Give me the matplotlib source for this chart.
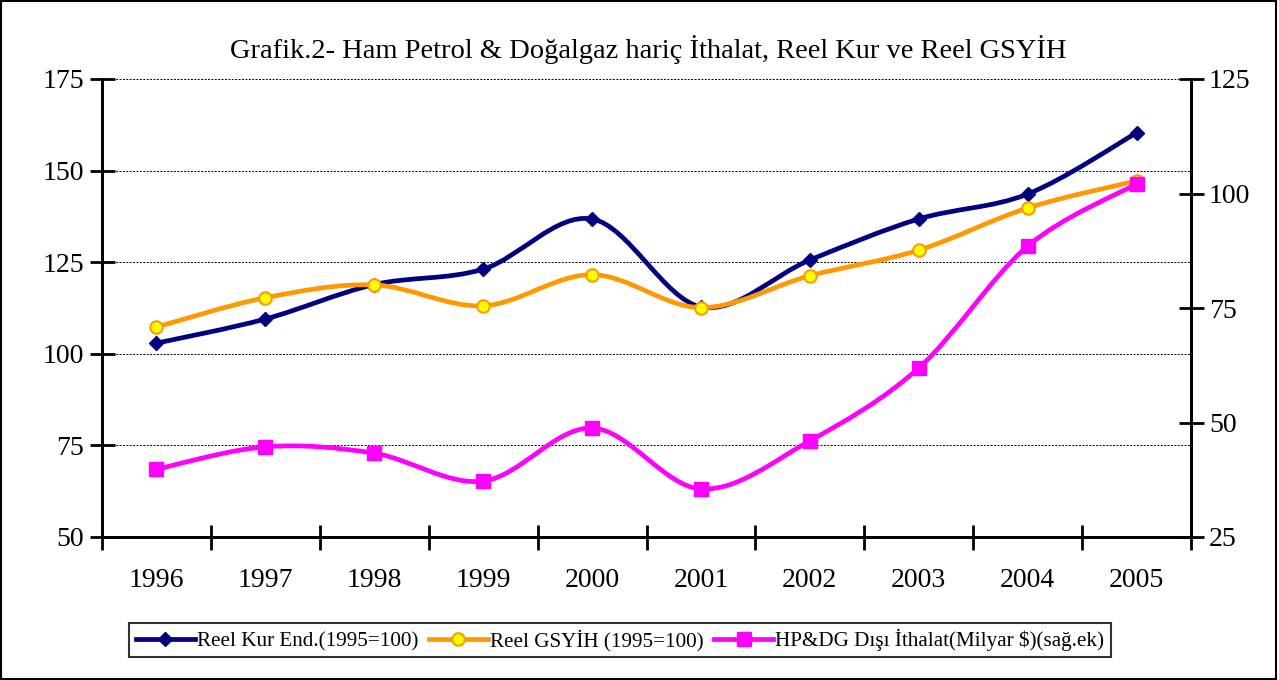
import matplotlib
matplotlib.use('Agg')
from matplotlib import pyplot as plt
from matplotlib.path import Path
from matplotlib.patches import PathPatch, Rectangle
from matplotlib.lines import Line2D

plt.rcParams['font.family'] = ['Liberation Serif', 'DejaVu Serif']

yillar = ['1996', '1997', '1998', '1999', '2000',
          '2001', '2002', '2003', '2004', '2005']
reel_kur = [102.9, 109.5, 118.9, 123.1, 136.8, 112.8, 125.6, 136.8, 143.6, 160.3]
reel_gsyih = [107.3, 115.3, 118.8, 113.1, 121.6, 112.6, 121.3, 128.3, 139.8, 147.2]
ithalat = [39.8, 44.7, 43.3, 37.2, 48.8, 35.5, 46.0, 61.9, 88.5, 102.1]

baslik = 'Grafik.2- Ham Petrol & Doğalgaz hariç İthalat, Reel Kur ve Reel GSYİH'
etiketler = ['Reel Kur End.(1995=100)', 'Reel GSYİH (1995=100)',
             'HP&DG Dışı İthalat(Milyar $)(sağ.ek)']


def yumusak_egri(xs, ys):
    """Excel tarzi yumusatilmis cizgi icin Bezier yolu olustur."""
    pts = list(zip(xs, ys))
    n = len(pts)
    verts = [pts[0]]
    codes = [Path.MOVETO]
    for i in range(n - 1):
        p0 = pts[max(i - 1, 0)]
        p1 = pts[i]
        p2 = pts[i + 1]
        p3 = pts[min(i + 2, n - 1)]
        c1 = (p1[0] + (p2[0] - p0[0]) / 6, p1[1] + (p2[1] - p0[1]) / 6)
        c2 = (p2[0] - (p3[0] - p1[0]) / 6, p2[1] - (p3[1] - p1[1]) / 6)
        verts += [c1, c2, p2]
        codes += [Path.CURVE4] * 3
    return Path(verts, codes)


fig = plt.figure(figsize=(12.79, 6.8), dpi=100)
fig.patches.append(Rectangle((0.001, 0.002), 0.997, 0.996, transform=fig.transFigure,
                             fill=False, edgecolor='black', linewidth=1.5))

ax = fig.add_axes([102 / 1279, 1 - 537 / 680, (1191 - 102) / 1279, (537 - 79) / 680])
ax2 = ax.twinx()

x = list(range(len(yillar)))

stiller = [
    (ax, reel_kur, dict(color='#000080', marker='D', markersize=7,
                        markerfacecolor='#000080', markeredgecolor='#000080')),
    (ax, reel_gsyih, dict(color='#FF9900', marker='o', markersize=9,
                          markerfacecolor='#FFFF00', markeredgecolor='#FF9900',
                          markeredgewidth=1.5)),
    (ax2, ithalat, dict(color='#FF00FF', marker='s', markersize=10,
                        markerfacecolor='#FF00FF', markeredgecolor='#FF00FF')),
]

tutamaclar = []
for i, (eksen, seri, st) in enumerate(stiller):
    eksen.add_patch(PathPatch(yumusak_egri(x, seri), facecolor='none',
                              edgecolor=st['color'], linewidth=3.4,
                              capstyle='round', joinstyle='round', zorder=3 + i))
    eksen.plot(x, seri, linestyle='none', zorder=4 + i,
               **{k: v for k, v in st.items() if k != 'color'})
    tutamaclar.append(Line2D([], [], linewidth=3.4, label=etiketler[i], **st))

ax.set_xlim(-0.5, 9.5)
ax.set_ylim(50, 175)
ax2.set_ylim(25, 125)
ax.set_yticks([50, 75, 100, 125, 150, 175])
ax2.set_yticks([25, 50, 75, 100, 125])
ax.set_xticks(x)
ax.set_xticklabels(yillar)
ax.set_xticks([i - 0.5 for i in range(11)], minor=True)
ax.tick_params(axis='x', which='major', length=0, pad=22, labelsize=20)
ax.tick_params(axis='x', which='minor', direction='inout', length=18, width=2)
ax.tick_params(axis='y', direction='inout', length=18, width=2, labelsize=20, pad=4)
ax2.tick_params(axis='y', direction='inout', length=18, width=2, labelsize=20, pad=4)

ax.yaxis.grid(True, linestyle=(0, (2, 1.5)), color='black', linewidth=0.7)
for eksen in (ax, ax2):
    eksen.spines['top'].set_visible(False)
    for s in ('left', 'right', 'bottom'):
        eksen.spines[s].set_linewidth(2)
ax.patch.set_visible(False)
ax2.patch.set_visible(False)

# sag eksen serisi en ustte kalsin
ax2.set_zorder(ax.get_zorder() + 1)
ax2.yaxis.grid(False)

fig.text(648 / 1279, 1 - 50 / 680, baslik, ha='center', va='center', fontsize=20.5)

lg = fig.legend(handles=tutamaclar, loc='center', bbox_to_anchor=(620 / 1279, 1 - 640 / 680),
                ncol=3, fontsize=15.2, frameon=True, fancybox=False, handlelength=2.8,
                handletextpad=0.1, columnspacing=0.5, borderpad=0.3)
lg.get_frame().set_edgecolor('black')
lg.get_frame().set_linewidth(1.5)

fig.savefig('out.png', dpi=100)
